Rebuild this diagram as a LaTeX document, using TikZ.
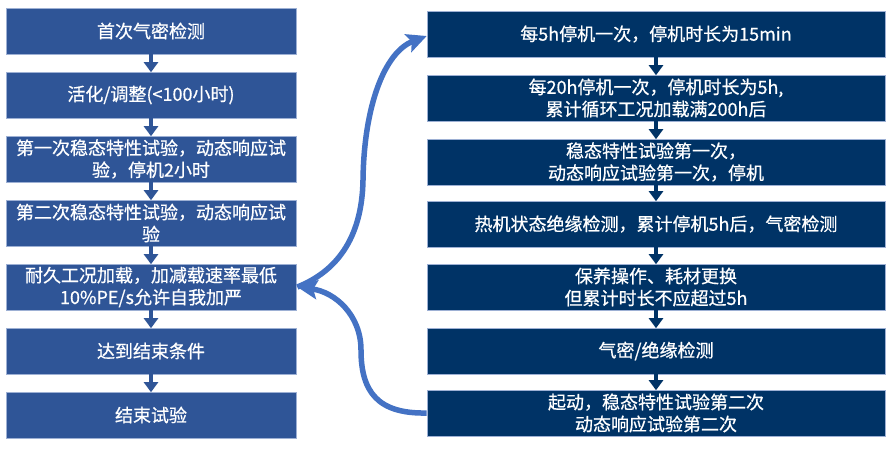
\documentclass[tikz,border=0pt]{standalone}
\usepackage{fontspec}
\setmainfont{Noto Sans CJK SC}[FakeBold=0.6]
\usetikzlibrary{arrows.meta}
\definecolor{lblue}{HTML}{2F5597}
\definecolor{dblue}{HTML}{003366}
\definecolor{edgec}{HTML}{9DB0D4}
\definecolor{curvec}{HTML}{4472C4}
\tikzset{
  lbox/.style={rectangle, fill=lblue, draw=edgec, line width=0.6pt, minimum width=290pt, minimum height=46pt, inner sep=0pt, text width=286pt, align=center, text=white, font=\fontsize{18}{22}\selectfont},
  rbox/.style={rectangle, fill=dblue, draw=edgec, line width=0.6pt, minimum width=458pt, minimum height=46pt, inner sep=0pt, text width=450pt, align=center, text=white, font=\fontsize{18}{22}\selectfont},
  larr/.style={draw=lblue, line width=4pt, -{Triangle[length=10pt,width=14pt]}, shorten >=-0.5pt},
  rarr/.style={draw=dblue, line width=4pt, -{Triangle[length=10pt,width=14pt]}, shorten >=-0.5pt},
  bigcurve/.style={draw=curvec, line width=5.5pt, -{Stealth[length=20pt,width=19pt,inset=4pt]}}
}
\begin{document}
\begin{tikzpicture}[x=1pt,y=-1pt]
\useasboundingbox[fill=white] (0,0) rectangle (893,450);
% left column
\node[lbox] (l1) at (151,31) {首次气密检测};
\node[lbox] (l2) at (151,95) {活化/调整(<100小时)};
\node[lbox] (l3) at (151,159) {第一次稳态特性试验，动态响应试\\验，停机2小时};
\node[lbox] (l4) at (151,223) {第二次稳态特性试验，动态响应试\\验};
\node[lbox] (l5) at (151,287) {耐久工况加载，加减载速率最低\\10\%PE/s允许自我加严};
\node[lbox] (l6) at (151,351) {达到结束条件};
\node[lbox] (l7) at (151,415) {结束试验};
% right column
\node[rbox] (r1) at (656,34) {每5h停机一次，停机时长为15min};
\node[rbox] (r2) at (656,98) {每20h停机一次，停机时长为5h,\\累计循环工况加载满200h后};
\node[rbox] (r3) at (656,162) {稳态特性试验第一次，\\动态响应试验第一次，停机};
\node[rbox] (r4) at (656,224) {热机状态绝缘检测，累计停机5h后，气密检测};
\node[rbox] (r5) at (656,287) {保养操作、耗材更换\\但累计时长不应超过5h};
\node[rbox] (r6) at (656,351) {气密/绝缘检测};
\node[rbox] (r7) at (656,413) {起动，稳态特性试验第二次\\动态响应试验第二次};
% small arrows
\foreach \a/\b in {l1/l2,l2/l3,l3/l4,l4/l5,l5/l6,l6/l7}
  \draw[larr] (\a.south) -- (\b.north);
\foreach \a/\b in {r1/r2,r2/r3,r3/r4,r4/r5,r5/r6,r6/r7}
  \draw[rarr] (\a.south) -- (\b.north);
% big curves
\coordinate (ltip) at ([xshift=1pt]l5.east);
\coordinate (rtip) at ([yshift=-2pt]r1.west);
\draw[bigcurve] (ltip) .. controls (335,272) and (362,240) .. (363,180)
  .. controls (364,105) and (385,52) .. (rtip);
\draw[bigcurve] (r7.west) .. controls (378,414) and (361,392) .. (361,350)
  .. controls (361,315) and (335,292) .. (ltip);
\end{tikzpicture}
\end{document}
